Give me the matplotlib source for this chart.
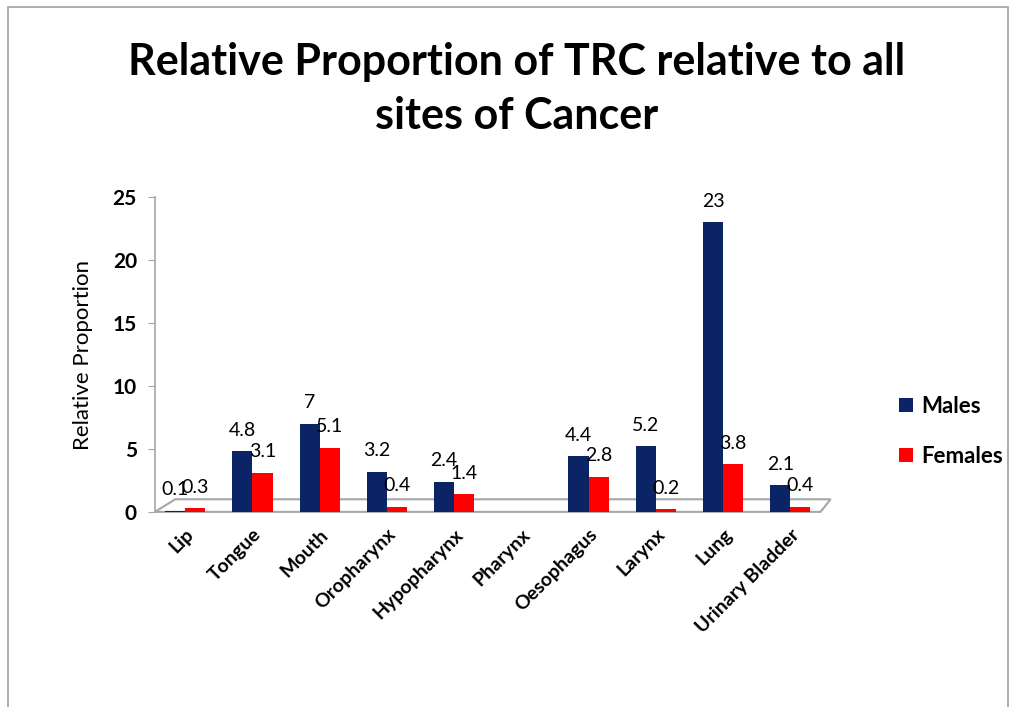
import numpy as np
import matplotlib.pyplot as plt
from matplotlib.patches import Rectangle, Polygon

# data
sites = ['Lip', 'Tongue', 'Mouth', 'Oropharynx', 'Hypopharynx', 'Pharynx',
         'Oesophagus', 'Larynx', 'Lung', 'Urinary Bladder']
males = [0.1, 4.8, 7, 3.2, 2.4, None, 4.4, 5.2, 23, 2.1]
females = [0.3, 3.1, 5.1, 0.4, 1.4, None, 2.8, 0.2, 3.8, 0.4]

navy = '#0a2466'
red = '#ff0000'
plt.rcParams['font.family'] = ['Lato', 'DejaVu Sans']

fig = plt.figure(figsize=(10.13, 7.07), dpi=100)
fig.patches.append(Rectangle((0.008, -0.01), 0.987, 1.0, transform=fig.transFigure,
                             fill=False, edgecolor='#a0a0a0', lw=1.2))

ax = fig.add_axes([0.153, 0.276, 0.667, 0.445])
x = np.arange(len(sites))
w = 0.3
m = np.array([np.nan if v is None else v for v in males], dtype=float)
f = np.array([np.nan if v is None else v for v in females], dtype=float)

ax.bar(x - w / 2, m, w, color=navy, label='Males', zorder=3)
ax.bar(x + w / 2, f, w, color=red, label='Females', zorder=3)

for xi, v in zip(x, males):
    if v is not None:
        ax.annotate(f'{v:g}', (xi - w / 2, v), xytext=(0, 9), textcoords='offset points',
                    ha='center', va='bottom', fontsize=14, zorder=5)
for xi, v in zip(x, females):
    if v is not None:
        ax.annotate(f'{v:g}', (xi + w / 2, v), xytext=(0, 9), textcoords='offset points',
                    ha='center', va='bottom', fontsize=14, zorder=5)

# 3d-like floor
floor = Polygon([(0, 0), (0.03, 0.04), (1.0, 0.04), (0.985, 0.0)],
                closed=True, transform=ax.transAxes, facecolor='white',
                edgecolor='#a6a6a6', lw=1.5, zorder=1, clip_on=False)
ax.add_patch(floor)

ax.set_xlim(-0.45, 9.6)
ax.set_ylim(0, 25)
ax.set_yticks([0, 5, 10, 15, 20, 25])
ax.set_xticks(x)
ax.set_xticklabels(sites, rotation=45, ha='right', rotation_mode='anchor',
                   fontsize=14, fontweight='bold')
for lab in ax.get_yticklabels():
    lab.set_fontweight('bold')
    lab.set_fontsize(15)
ax.tick_params(axis='x', length=0, pad=10)
ax.tick_params(axis='y', length=5, color='#a6a6a6', pad=8)
for s in ['top', 'right', 'bottom']:
    ax.spines[s].set_visible(False)
ax.spines['left'].set_color('#a6a6a6')
ax.spines['left'].set_linewidth(1.2)
ax.set_ylabel('Relative Proportion', fontsize=16, labelpad=14)

fig.suptitle('Relative Proportion of TRC relative to all\nsites of Cancer',
             x=0.51, y=0.94, fontsize=31, fontweight='bold', linespacing=1.4)

fig.legend(loc='center left', bbox_to_anchor=(0.868, 0.39), frameon=False,
           handlelength=0.6, handleheight=0.6, handletextpad=0.4, labelspacing=1.3,
           prop={'weight': 'bold', 'size': 16})

fig.savefig('out.png', dpi=100)
